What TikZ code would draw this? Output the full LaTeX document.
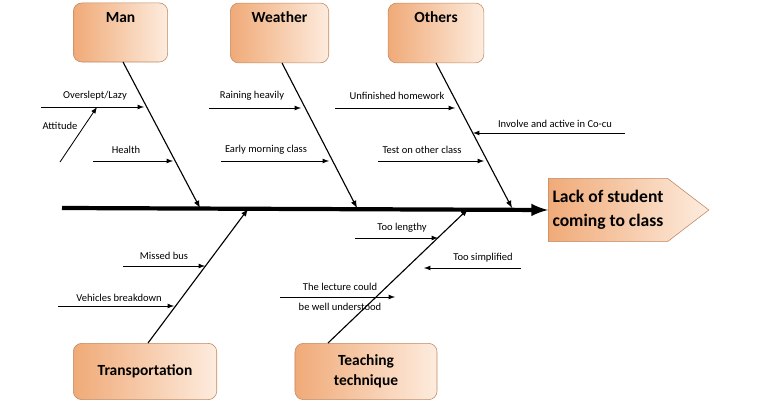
\documentclass[tikz,border=0pt]{standalone}
\usepackage{fontspec}
\setmainfont{Carlito}
\usetikzlibrary{shapes.symbols}
\definecolor{peachdark}{RGB}{240,170,120}
\definecolor{peachlight}{RGB}{253,236,222}
\begin{document}
\begin{tikzpicture}[x=0.025cm, y=-0.025cm]
\tikzset{ >=latex,
  cause/.style={draw=peachdark!80!black, rounded corners=6pt, left color=peachdark, right color=peachlight,
    font=\bfseries\fontsize{11}{14}\selectfont, align=center, inner sep=0pt},
  bone/.style={->, thick},
  twig/.style={->, semithick},
  lbl/.style={font=\fontsize{7.5}{9}\selectfont, inner sep=1pt, align=center},
}
\useasboundingbox (0,0) rectangle (773,405);

% category boxes
\node [cause, minimum width=67pt, minimum height=42pt] (Man) at (120.5,32.5) {Man\\[8pt]};
\node [cause, minimum width=70pt, minimum height=42.5pt] (Weather) at (279.5,33) {Weather\\[8pt]};
\node [cause, minimum width=68pt, minimum height=42.5pt] (Others) at (436,33) {Others\\[8pt]};
\node [cause, minimum width=102pt, minimum height=40pt] (Trans) at (145,371.5) {Transportation};
\node [cause, minimum width=101pt, minimum height=40pt] (Teach) at (366,371.5) {Teaching\\technique};

% head
\node [signal, signal to=east, signal pointer angle=75, draw=peachdark!80!black,
  left color=peachdark, right color=peachlight, minimum height=45pt,
  font=\bfseries\fontsize{12.5}{17}\selectfont, align=left, inner xsep=3pt, anchor=west]
  (Head) at (548,210) {Lack of student\\coming to class};

% spine
\coordinate (S0) at (62,208);
\draw [->, line width=3pt] (S0) -- (Head.west);

% main bones
\coordinate (M1) at (200,208);
\coordinate (W1) at (357,208);
\coordinate (O1) at (512,208);
\coordinate (T1) at (248,209);
\coordinate (E1) at (468,209);
\draw [bone] (123,62) -- (M1);
\draw [bone] (282,63) -- (W1);
\draw [bone] (436,63) -- (O1);
\draw [bone] (148,343) -- (T1);
\draw [bone] (328,343) -- (E1);

% Man
\draw [twig] (41,107) -- (144,107);
\draw [twig] (60,162) -- (97,107);
\draw [twig] (93,161) -- (173,161);
\node [lbl] (l1) at (95,96) {Overslept/Lazy};
\node [lbl] (l2) at (60,126) {Attitude};
\node [lbl] (l3) at (126,150) {Health};

% Weather
\draw [twig] (209,108) -- (301,108);
\draw [twig] (221,161) -- (329,161);
\node [lbl] (l4) at (252,96) {Raining heavily};
\node [lbl] (l5) at (266,150) {Early morning class};

% Others
\draw [twig] (335,108) -- (455,108);
\draw [twig] (625,133) -- (473,133);
\draw [twig] (378,161) -- (484,161);
\node [lbl] (l6) at (397,96) {Unfinished homework};
\node [lbl] (l7) at (555,124) {Involve and active in Co-cu};
\node [lbl] (l8) at (422,150) {Test on other class};

% Transportation
\draw [twig] (123,266) -- (205,266);
\draw [twig] (58,306) -- (174,306);
\node [lbl] (l9) at (164,256) {Missed bus};
\node [lbl] (l10) at (119,298) {Vehicles breakdown};

% Teaching technique
\draw [twig] (355,238) -- (438,238);
\draw [twig] (521,268) -- (424,268);
\draw [twig] (280,297) -- (395,297);
\node [lbl] (l11) at (402,228) {Too lengthy};
\node [lbl] (l12) at (483,258) {Too simplified};
\node [lbl] (l13) at (340,297) {The lecture could\\[5pt]be well understood};

\end{tikzpicture}
\end{document}
